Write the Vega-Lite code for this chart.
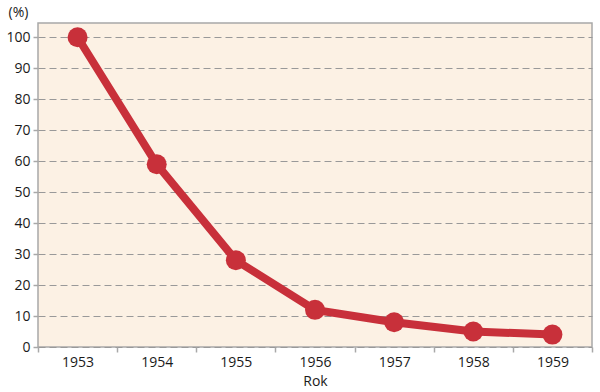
{
  "$schema": "https://vega.github.io/schema/vega-lite/v6.json",
  "width": 554,
  "height": 324,
  "autosize": "none",
  "padding": {"left": 38, "top": 23, "right": 8, "bottom": 45},
  "background": "#ffffff",
  "config": {
    "view": {"fill": "#fcf1e4", "stroke": "#a8a8a8", "strokeWidth": 1.5},
    "font": "Open Sans"
  },
  "data": {
    "values": [
      {"year": "1953", "pct": 100},
      {"year": "1954", "pct": 59},
      {"year": "1955", "pct": 28},
      {"year": "1956", "pct": 12},
      {"year": "1957", "pct": 8},
      {"year": "1958", "pct": 5},
      {"year": "1959", "pct": 4}
    ]
  },
  "encoding": {
    "x": {
      "field": "year",
      "type": "ordinal",
      "scale": {"type": "band", "paddingInner": 0, "paddingOuter": 0},
      "axis": {
        "title": "Rok",
        "labelAngle": 0,
        "tickBand": "extent",
        "domain": false,
        "tickColor": "#a8a8a8",
        "tickSize": 5,
        "tickWidth": 1.5,
        "labelFontSize": 14,
        "labelColor": "#1a1a1a",
        "labelPadding": 3,
        "titleFontSize": 14,
        "titleFontWeight": "normal",
        "titleColor": "#1a1a1a",
        "titlePadding": 5,
        "grid": false
      }
    },
    "y": {
      "field": "pct",
      "type": "quantitative",
      "scale": {"domain": [0, 104.6], "nice": false},
      "axis": {
        "title": "(%)",
        "titleAngle": 0,
        "titleAlign": "left",
        "titleBaseline": "middle",
        "titleX": -30,
        "titleY": -11,
        "titleFontSize": 14,
        "titleFontWeight": "normal",
        "titleColor": "#1a1a1a",
        "values": [0, 10, 20, 30, 40, 50, 60, 70, 80, 90, 100],
        "domain": false,
        "tickColor": "#a8a8a8",
        "tickSize": 5,
        "tickWidth": 1.5,
        "labelFontSize": 14,
        "labelColor": "#1a1a1a",
        "labelPadding": 3,
        "grid": true,
        "gridColor": "#999999",
        "gridDash": [7, 4],
        "gridWidth": 1.2
      }
    }
  },
  "layer": [
    {
      "mark": {"type": "line", "color": "#c8303a", "strokeWidth": 8}
    },
    {
      "mark": {"type": "point", "shape": "circle", "filled": true, "color": "#c8303a", "opacity": 1, "size": 400}
    }
  ]
}
